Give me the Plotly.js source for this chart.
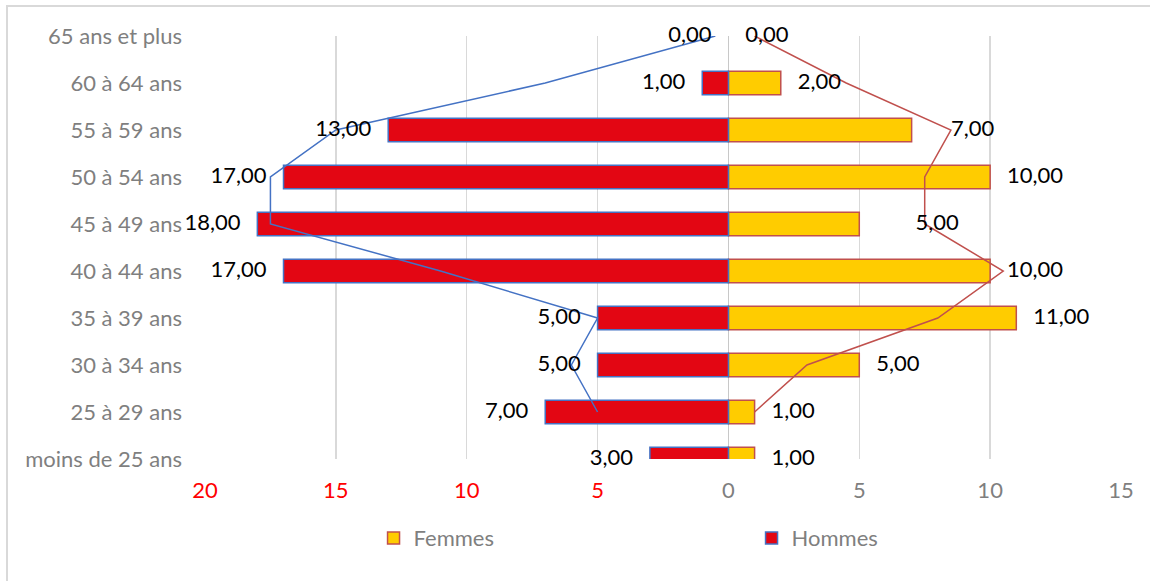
<!DOCTYPE html>
<html>
<head>
<meta charset="utf-8">
<script src="https://cdn.plot.ly/plotly-3.0.1.min.js"></script>
<style>
  body { margin: 0; overflow: hidden; background: #fff; }
  #frame { position: absolute; left: 6px; top: 5px; width: 1300px; height: 700px;
           border-left: 2px solid #d9d9d9; border-top: 2px solid #d9d9d9; }
  #chart { position: absolute; left: 0; top: 0; width: 1150px; height: 581px; }
</style>
</head>
<body>
<div id="frame"></div>
<div id="chart"></div>
<script>
// tranches d'age, du bas vers le haut
const ages = ['moins de 25 ans', '25 à 29 ans', '30 à 34 ans', '35 à 39 ans', '40 à 44 ans',
              '45 à 49 ans', '50 à 54 ans', '55 à 59 ans', '60 à 64 ans', '65 ans et plus'];
const hommes = [3, 7, 5, 5, 17, 18, 17, 13, 1, 0];
const femmes = [1, 1, 5, 11, 10, 5, 10, 7, 2, 0];
// courbes de tendance (moyenne mobile)
const hommesTendance = [null, 5, 6, 5, 11, 17.5, 17.5, 15, 7, 0.5];
const femmesTendance = [null, 1, 3, 8, 10.5, 7.5, 7.5, 8.5, 4.5, 1];
const xTicks = [-20, -15, -10, -5, 0, 5, 10, 15];

const FONT = 'Lato, "Open Sans", sans-serif';
const FS = 22;
const NB = '\u00a0';

function fmt(v) {
  return v.toFixed(2).replace('.', ',');
}

// extra gap for the two labels that were moved by hand in the original
const femmesPad = ages.map((a, i) => (i === 7 ? 7 : i === 5 ? 10 : 3));

let traces = [
  {
    type: 'bar', orientation: 'h', name: 'Femmes',
    y: ages, x: femmes,
    width: 0.5,
    marker: { color: '#ffcc00', line: { color: '#c0504d', width: femmes.map(v => (v ? 1.5 : 0)) } },
    hoverinfo: 'skip'
  },
  {
    type: 'bar', orientation: 'h', name: 'Hommes',
    y: ages, x: hommes.map(v => -v),
    width: 0.5,
    marker: { color: '#e30613', line: { color: '#4472c4', width: hommes.map(v => (v ? 1.5 : 0)) } },
    hoverinfo: 'skip'
  },
  {
    type: 'scatter', mode: 'lines', showlegend: false,
    y: ages, x: hommesTendance.map(v => (v === null ? null : -v)),
    line: { color: '#4472c4', width: 1.5 }, hoverinfo: 'skip'
  },
  {
    type: 'scatter', mode: 'lines', showlegend: false,
    y: ages, x: femmesTendance,
    line: { color: '#c0504d', width: 1.5 }, hoverinfo: 'skip'
  },
  {
    // etiquettes des hommes, a gauche de la fin de barre
    type: 'scatter', mode: 'text', showlegend: false,
    y: ages, x: hommes.map(v => -v),
    text: hommes.map(v => fmt(v) + NB.repeat(3)),
    textposition: 'middle left', cliponaxis: false,
    textfont: { family: FONT, size: FS, color: '#000' },
    hoverinfo: 'skip'
  },
  {
    // etiquettes des femmes, a droite
    type: 'scatter', mode: 'text', showlegend: false,
    y: ages, x: femmes,
    text: femmes.map((v, i) => NB.repeat(femmesPad[i]) + fmt(v)),
    textposition: 'middle right', cliponaxis: false,
    textfont: { family: FONT, size: FS, color: '#000' },
    hoverinfo: 'skip'
  }
];

let layout = {
  width: 1150, height: 581,
  margin: { l: 205, r: 29, t: 36, b: 122 },
  paper_bgcolor: 'rgba(0,0,0,0)',
  plot_bgcolor: 'rgba(0,0,0,0)',
  font: { family: FONT, size: FS, color: '#7f7f7f' },
  barmode: 'overlay',
  showlegend: true,
  legend: {
    orientation: 'h', x: 0.184, xanchor: 'left', y: -0.187, yanchor: 'middle',
    entrywidth: 333, traceorder: 'normal',
    font: { family: FONT, size: FS, color: '#7f7f7f' }
  },
  xaxis: {
    range: [-20, 15], tickvals: xTicks,
    ticktext: xTicks.map(v => (v < 0 ? '<span style="color:#ff0000">' + (-v) + '</span>' : String(v))),
    showgrid: true, gridcolor: '#d9d9d9', gridwidth: 1.5,
    zeroline: true, zerolinecolor: '#c8c8c8', zerolinewidth: 1.5,
    showline: false, ticks: '', ticklabelstandoff: 16,
    tickfont: { family: FONT, size: FS, color: '#7f7f7f' },
    fixedrange: true
  },
  yaxis: {
    type: 'category', categoryorder: 'array', categoryarray: ages,
    range: [0, 9], showgrid: false, zeroline: false, showline: false,
    ticks: '', ticklabelstandoff: 22,
    tickfont: { family: FONT, size: FS, color: '#7f7f7f' },
    fixedrange: true
  }
};

Plotly.newPlot('chart', traces, layout, { displayModeBar: false, staticPlot: true });
</script>
</body>
</html>
